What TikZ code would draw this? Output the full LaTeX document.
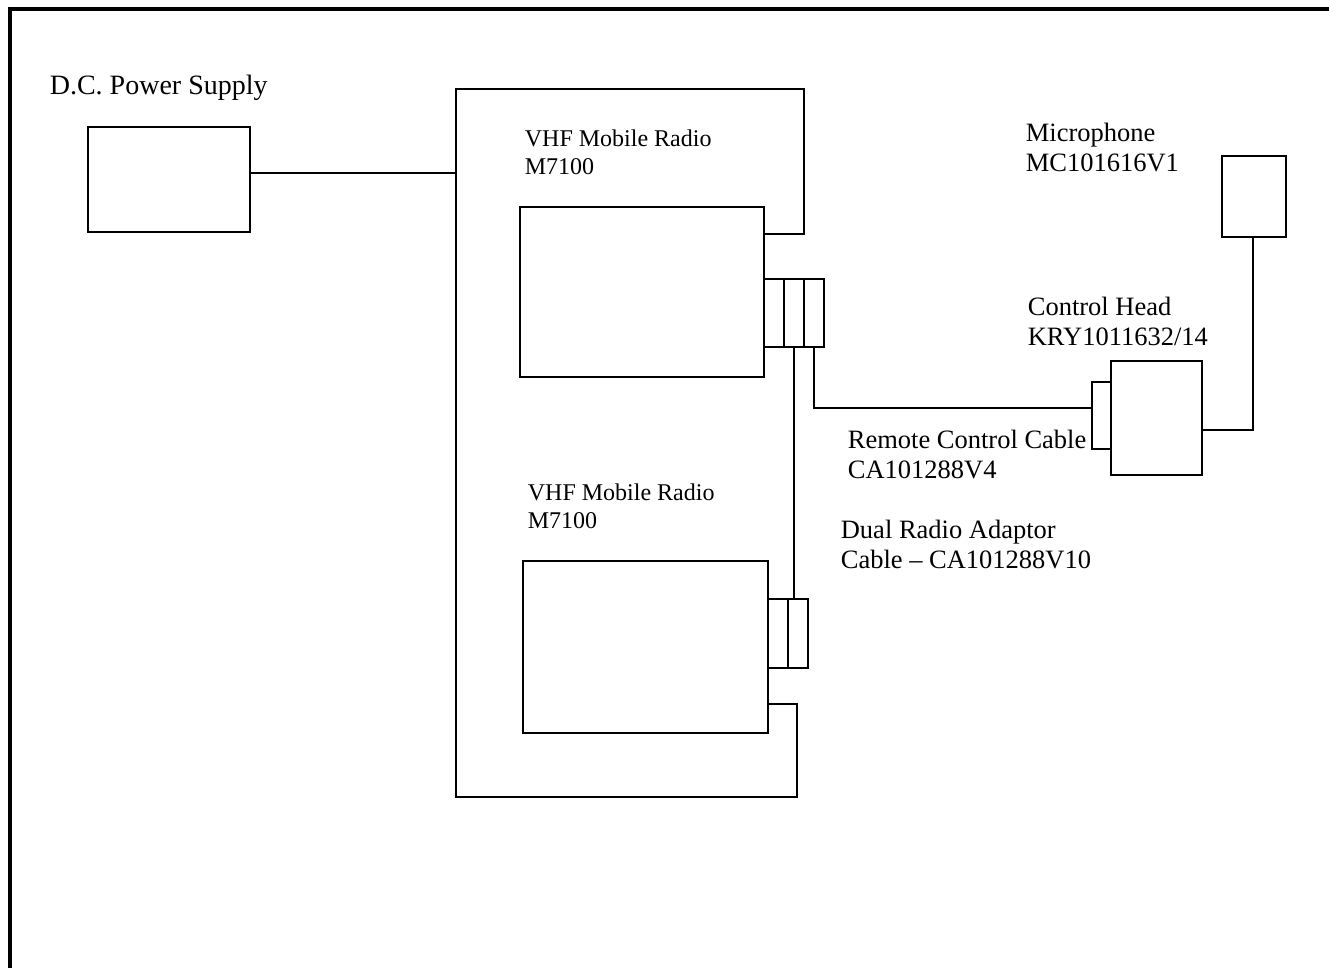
\documentclass[tikz,border=0pt]{standalone}
\usepackage{fontspec}
\setmainfont{Liberation Serif}

\begin{document}
\begin{tikzpicture}[x=1pt,y=-1pt,line width=1.7pt,
    unit/.style={draw,rectangle,inner sep=0pt,outer sep=0pt},
    lbl/.style={anchor=base west,inner sep=0pt,align=left,font=\fontsize{26.5}{30}\selectfont},
    rlbl/.style={anchor=base west,inner sep=0pt,align=left,font=\fontsize{24}{28}\selectfont}]
            \useasboundingbox (0,0) rectangle (1329,968);
            \draw[line width=4pt] (10,968) -- (10,9) -- (1329,9);
            \node[unit,minimum width=162,minimum height=105](psu)at(169,179.5){};
            \node[unit,minimum width=244,minimum height=170](rad1)at(642,292){};
            \node[unit,minimum width=245,minimum height=172](rad2)at(645.5,647){};
            \foreach \i in {1,2,3}
                \node[unit,minimum width=20,minimum height=68](c1\i)at(754+20*\i,313){};
            \foreach \i in {1,2}
                \node[unit,minimum width=20,minimum height=69](c2\i)at(758+20*\i,633.5){};
            \node[unit,minimum width=19,minimum height=67](chc)at(1101.5,415.5){};
            \node[unit,minimum width=91,minimum height=114](ch)at(1156.5,418){};
            \node[unit,minimum width=64,minimum height=81](mic)at(1254,196.5){};
            \coordinate(ftl)at(456,89);
            \coordinate(ftr)at(804,89);
            \coordinate(fbl)at(456,797);
            \coordinate(fbr)at(797,797);
            \coordinate(pw)at(456,173);
            \coordinate(g1)at(804,234);
            \coordinate(g2)at(797,704);
            \coordinate(rc)at(1092,408);
            \coordinate(mc)at(1253,430);
            \node[lbl,font=\fontsize{28}{30}\selectfont](psul)at(49,95){D.C. Power Supply};
            \node[rlbl](rad1l)at(524,175){VHF Mobile Radio\\M7100};
            \node[rlbl](rad2l)at(527,528){VHF Mobile Radio\\M7100};
            \node[lbl](micl)at(1025,172){Microphone\\MC101616V1};
            \node[lbl](chl)at(1027,345){Control Head\\KRY1011632/14};
            \node[lbl](rcl)at(847,478){Remote Control Cable\\CA101288V4};
            \node[lbl](dral)at(840,568){Dual Radio Adaptor\\Cable – CA101288V10};
            \draw(pw -| psu.east)--(pw);
            \draw(g1 -| rad1.east)--(g1)--(ftr)--(ftl)--(fbl)--(fbr)--(g2)--(g2 -| rad2.east);
            \draw(c12.south)--(c12.south |- c22.north);
            \draw(c13.south)--(c13.south |- rc)--(rc);
            \draw(mc -| ch.east)--(mc)--(mc |- mic.south);
        \end{tikzpicture}
\end{document}
